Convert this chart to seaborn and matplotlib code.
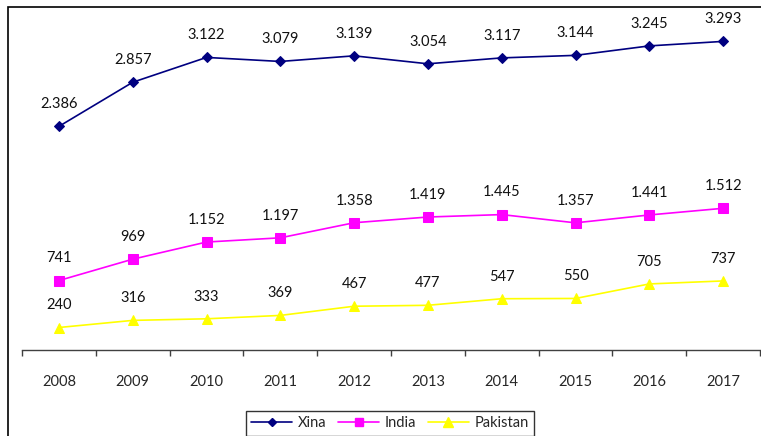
import pandas as pd
import matplotlib.pyplot as plt
import seaborn as sns
from matplotlib.lines import Line2D
from matplotlib.patches import Rectangle

# dades
anys = [2008, 2009, 2010, 2011, 2012, 2013, 2014, 2015, 2016, 2017]
xina = [2386, 2857, 3122, 3079, 3139, 3054, 3117, 3144, 3245, 3293]
india = [741, 969, 1152, 1197, 1358, 1419, 1445, 1357, 1441, 1512]
pakistan = [240, 316, 333, 369, 467, 477, 547, 550, 705, 737]
series = ['Xina', 'India', 'Pakistan']

colors = {'Xina': '#000080', 'India': '#FF00FF', 'Pakistan': '#FFFF00'}
markers = {'Xina': 'D', 'India': 's', 'Pakistan': '^'}
msizes = {'Xina': 5.5, 'India': 6.5, 'Pakistan': 7.5}

df = pd.DataFrame({
    'any': anys * 3,
    'valor': xina + india + pakistan,
    'pais': ['Xina'] * 10 + ['India'] * 10 + ['Pakistan'] * 10,
})

sns.set_style('white')
plt.rcParams['font.family'] = ['Lato', 'DejaVu Sans']

fig = plt.figure(figsize=(7.61, 4.36), dpi=100)
ax = fig.add_axes([22 / 761, 1 - 350 / 436, 738 / 761, 328 / 436])

for p in series:
    sub = df[df['pais'] == p]
    sns.lineplot(data=sub, x='any', y='valor', ax=ax, color=colors[p],
                 marker=markers[p], markersize=msizes[p], markeredgecolor=colors[p],
                 linewidth=1.2, legend=False)
    for x, y in zip(sub['any'], sub['valor']):
        txt = f"{y:,}".replace(',', '.')
        ax.annotate(txt, (x, y), xytext=(0, 16), textcoords='offset points',
                    ha='center', va='center', fontsize=10.5, color='#111111')

ax.set_xlim(2007.5, 2017.5)
ax.set_ylim(0, 3500)
ax.set_xlabel('')
ax.set_ylabel('')
ax.set_yticks([])
ax.set_xticks(anys)
ax.set_xticklabels([str(a) for a in anys], fontsize=10.5)
ax.set_xticks([a - 0.5 for a in anys] + [2017.5], minor=True)
ax.tick_params(axis='x', which='major', length=0, pad=18)
ax.tick_params(axis='x', which='minor', length=4, width=1, color='#404040', direction='out', bottom=True)
for s in ['top', 'right', 'left']:
    ax.spines[s].set_visible(False)
ax.spines['bottom'].set_color('#404040')
ax.spines['bottom'].set_linewidth(1)

handles = [Line2D([0], [0], color=colors[p], marker=markers[p], markersize=msizes[p] - 1,
                  linewidth=1.2) for p in series]
leg = fig.legend(handles, series, loc='upper center', bbox_to_anchor=(390 / 761, 1 - 404 / 436),
                 ncol=3, frameon=True, fancybox=False, fontsize=10.5, handlelength=2.8,
                 columnspacing=0.8, handletextpad=0.4, borderpad=0.35)
leg.get_frame().set_edgecolor('#000000')
leg.get_frame().set_linewidth(1)

# marc de la figura
fig.patches.append(Rectangle((8 / 761, -0.05), 1.05, 1 - 7 / 436 + 0.05, transform=fig.transFigure,
                             fill=False, edgecolor='#000000', linewidth=1.2, zorder=0))

plt.savefig('out.png', dpi=100)
